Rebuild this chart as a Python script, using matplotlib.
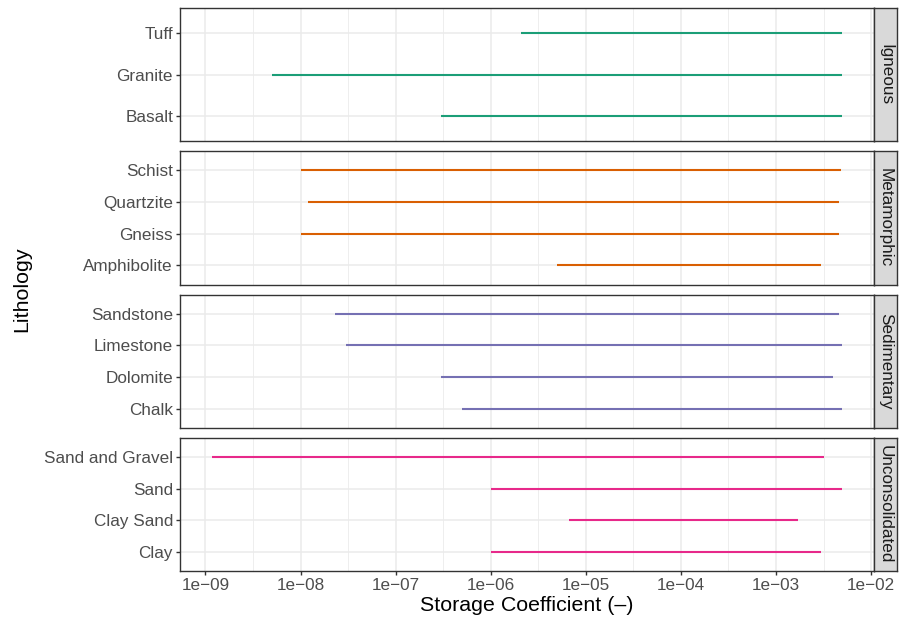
import numpy as np
import matplotlib.pyplot as plt
from matplotlib.ticker import FixedLocator, NullFormatter

plt.rcParams["font.family"] = ["Liberation Sans", "DejaVu Sans"]

groups = ["Igneous", "Metamorphic", "Sedimentary", "Unconsolidated"]

igneous_rocks = ["Basalt", "Granite", "Tuff"]
igneous_min = [3e-7, 5e-9, 2.1e-6]
igneous_max = [5e-3, 5e-3, 5e-3]

metamorphic_rocks = ["Amphibolite", "Gneiss", "Quartzite", "Schist"]
metamorphic_min = [5e-6, 1e-8, 1.2e-8, 1e-8]
metamorphic_max = [3e-3, 4.6e-3, 4.6e-3, 4.8e-3]

sedimentary_rocks = ["Chalk", "Dolomite", "Limestone", "Sandstone"]
sedimentary_min = [5e-7, 3e-7, 3e-8, 2.3e-8]
sedimentary_max = [5e-3, 4e-3, 5e-3, 4.6e-3]

unconsolidated_rocks = ["Clay", "Clay Sand", "Sand", "Sand and Gravel"]
unconsolidated_min = [1e-6, 6.6e-6, 1e-6, 1.16e-9]
unconsolidated_max = [3e-3, 1.7e-3, 5e-3, 3.2e-3]

group_colors = ["#1B9E77", "#D95F02", "#7570B3", "#E7298A"]

x_ticks = [1e-9, 1e-8, 1e-7, 1e-6, 1e-5, 1e-4, 1e-3, 1e-2]
x_tick_labels = ["1e\u221209", "1e\u221208", "1e\u221207", "1e\u221206",
                 "1e\u221205", "1e\u221204", "1e\u221203", "1e\u221202"]


def main():
    data = {
        "Igneous": (igneous_rocks, igneous_min, igneous_max),
        "Metamorphic": (metamorphic_rocks, metamorphic_min, metamorphic_max),
        "Sedimentary": (sedimentary_rocks, sedimentary_min, sedimentary_max),
        "Unconsolidated": (unconsolidated_rocks, unconsolidated_min, unconsolidated_max),
    }

    W, H = 899, 623
    fig = plt.figure(figsize=(W / 100, H / 100), dpi=100)

    # x limits: ggplot-like 5% expansion in log space
    all_min = min(min(v[1]) for v in data.values())
    all_max = max(max(v[2]) for v in data.values())
    lo, hi = np.log10(all_min), np.log10(all_max)
    pad = 0.05 * (hi - lo)
    xlim = (10 ** (lo - pad), 10 ** (hi + pad))

    minor = [10 ** (e + 0.5) for e in range(-10, -1)]
    minor = [m for m in minor if xlim[0] < m < xlim[1]]

    left, right = 180, 874
    top, bottom = 8, 571
    gap = 10
    ph = (bottom - top - gap * (len(groups) - 1)) / len(groups)
    strip_w = 23
    dark = "#333333"
    tick_size = 12.3
    title_size = 15.4

    for i, g in enumerate(groups):
        rocks, mins, maxs = data[g]
        y0 = top + i * (ph + gap)
        ax = fig.add_axes([left / W, 1 - (y0 + ph) / H, (right - left) / W, ph / H])
        ypos = np.arange(1, len(rocks) + 1)
        ax.hlines(ypos, mins, maxs, color=group_colors[i], lw=1.5, zorder=3)
        ax.set_xscale("log")
        ax.set_xlim(*xlim)
        ax.set_ylim(0.4, len(rocks) + 0.6)
        ax.set_yticks(ypos)
        ax.set_yticklabels(rocks)
        ax.xaxis.set_major_locator(FixedLocator(x_ticks))
        ax.xaxis.set_minor_locator(FixedLocator(minor))
        ax.xaxis.set_minor_formatter(NullFormatter())
        ax.grid(True, which="major", color="#EBEBEB", lw=1.1, zorder=0)
        ax.grid(True, which="minor", axis="x", color="#EBEBEB", lw=0.6, zorder=0)
        ax.set_axisbelow(True)
        for s in ax.spines.values():
            s.set_color(dark)
            s.set_linewidth(1.0)
        ax.tick_params(axis="both", which="major", length=3, width=1.0, color=dark,
                       labelsize=tick_size, labelcolor="#4D4D4D", pad=2)
        ax.tick_params(axis="x", which="minor", length=0)
        if i < len(groups) - 1:
            ax.tick_params(axis="x", which="major", length=0, labelbottom=False)
        else:
            ax.set_xticklabels(x_tick_labels)
            ax.set_xlabel("Storage Coefficient (\u2013)", fontsize=title_size, labelpad=2)

        sax = fig.add_axes([right / W, 1 - (y0 + ph) / H, strip_w / W, ph / H])
        sax.set_facecolor("#D9D9D9")
        sax.set_xticks([])
        sax.set_yticks([])
        for s in sax.spines.values():
            s.set_color(dark)
            s.set_linewidth(1.0)
        sax.text(0.5, 0.5, g, rotation=270, ha="center", va="center",
                 fontsize=tick_size, color="#1A1A1A", transform=sax.transAxes)

    fig.text(22 / W, 1 - (top + bottom) / 2 / H, "Lithology", rotation=90,
             ha="center", va="center", fontsize=title_size)

    fig.savefig("out.png", dpi=100)
    plt.close(fig)


if __name__ == "__main__":
    main()
